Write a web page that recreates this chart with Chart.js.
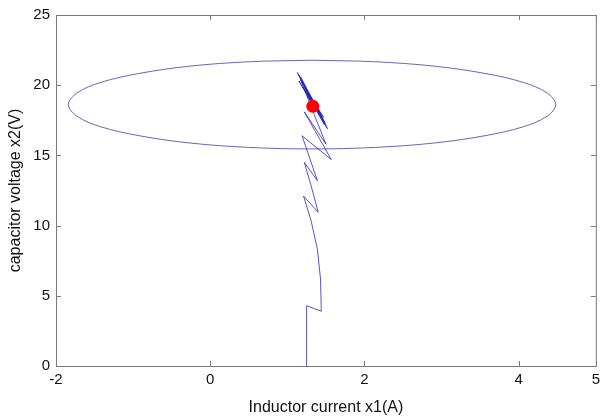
<!DOCTYPE html>
<html lang="en">
  <head>
    <meta charset="UTF-8" />
    <title>Phase plane</title>
    <style>
      * {
        box-sizing: border-box;
        margin: 0;
        padding: 0;
      }
      html,
      body {
        width: 605px;
        height: 420px;
        background: white;
        overflow: hidden;
      }
    </style>
  </head>
  <body>
    <canvas id="phaseChart" width="605" height="420"></canvas>
    <script src="https://cdn.jsdelivr.net/npm/chart.js"></script>
    <script>
      // state trajectory
      const currentX1 = [
        1.25, 1.25, 1.44, 1.43, 1.39, 1.31, 1.21, 1.4, 1.31, 1.22, 1.39, 1.19,
        1.57, 1.22, 1.5, 1.17, 1.52, 1.13, 1.5, 1.15, 1.49, 1.17, 1.48, 1.15,
        1.46, 1.19, 1.47, 1.2, 1.44, 1.22, 1.43, 1.24, 1.41, 1.26, 1.38, 1.29,
        1.35, 1.33,
      ];
      const voltageX2 = [
        0, 4.3, 3.9, 6.2, 8.3, 10.3, 12.1, 10.95, 12.8, 14.5, 13.2, 16.4, 14.7,
        18.1, 15.8, 20.4, 16.9, 20.9, 17.1, 20.7, 17.3, 20.6, 17.2, 20.3, 17.5,
        20.2, 17.7, 19.9, 17.8, 19.7, 18.0, 19.5, 18.2, 19.2, 18.4, 18.9, 18.5,
        18.6,
      ];

      // boundary curve, starting at the top
      const boundX1 = [
        1.32, 0.5, -0.26, -0.91, -1.42, -1.73, -1.84, -1.73, -1.42, -0.91,
        -0.26, 0.5, 1.32, 2.14, 2.9, 3.55, 4.06, 4.37, 4.48, 4.37, 4.06, 3.55,
        2.9, 2.14, 1.32,
      ];
      const boundX2 = [
        21.78, 21.67, 21.36, 20.85, 20.2, 19.44, 18.62, 17.8, 17.04, 16.39,
        15.88, 15.57, 15.46, 15.57, 15.88, 16.39, 17.04, 17.8, 18.62, 19.44,
        20.2, 20.85, 21.36, 21.67, 21.78,
      ];

      const equilibrium = { x: 1.33, y: 18.5 };

      const xTicks = [-2, 0, 2, 4, 5];
      const yTicks = [0, 5, 10, 15, 20, 25];

      const toPoints = (xs, ys) => xs.map((x, i) => ({ x: x, y: ys[i] }));

      // matlab style box with inward ticks
      const boxPlugin = {
        id: "box",
        afterDatasetsDraw(chart) {
          const { ctx, chartArea: a, scales } = chart;
          ctx.save();
          ctx.strokeStyle = "#7a7a7a";
          ctx.lineWidth = 1;
          ctx.strokeRect(a.left + 0.5, a.top + 0.5, a.right - a.left, a.bottom - a.top);
          ctx.beginPath();
          xTicks.forEach((v) => {
            const px = Math.round(scales.x.getPixelForValue(v)) + 0.5;
            ctx.moveTo(px, a.bottom);
            ctx.lineTo(px, a.bottom - 5);
            ctx.moveTo(px, a.top);
            ctx.lineTo(px, a.top + 5);
          });
          yTicks.forEach((v) => {
            const py = Math.round(scales.y.getPixelForValue(v)) + 0.5;
            ctx.moveTo(a.left, py);
            ctx.lineTo(a.left + 5, py);
            ctx.moveTo(a.right, py);
            ctx.lineTo(a.right - 5, py);
          });
          ctx.stroke();
          ctx.restore();
        },
      };

      const tickFont = { family: "Liberation Sans, Arial", size: 15 };
      const titleFont = { family: "Liberation Sans, Arial", size: 16 };

      new Chart(document.getElementById("phaseChart"), {
        type: "scatter",
        data: {
          datasets: [
            {
              data: [equilibrium],
              pointRadius: 6.5,
              pointBackgroundColor: "#ff0000",
              pointBorderColor: "#ff0000",
              pointBorderWidth: 0,
            },
            {
              data: toPoints(currentX1, voltageX2),
              showLine: true,
              borderColor: "#2a2ab8",
              borderWidth: 0.8,
              pointRadius: 0,
              tension: 0,
            },
            {
              data: toPoints(boundX1, boundX2),
              showLine: true,
              borderColor: "#4040a8",
              borderWidth: 0.8,
              pointRadius: 0,
              tension: 0.35,
            },
          ],
        },
        options: {
          responsive: false,
          animation: false,
          layout: { padding: { top: 15, right: 5, left: 0, bottom: 0 } },
          plugins: {
            legend: { display: false },
            tooltip: { enabled: false },
          },
          scales: {
            x: {
              type: "linear",
              min: -2,
              max: 5,
              afterBuildTicks: (scale) => {
                scale.ticks = xTicks.map((v) => ({ value: v }));
              },
              afterFit: (scale) => {
                scale.height = 54;
              },
              grid: { display: false, drawTicks: false },
              border: { display: false },
              ticks: { color: "#111", font: tickFont, padding: 5, maxRotation: 0 },
              title: {
                display: true,
                text: "Inductor current x1(A)",
                color: "#111",
                font: titleFont,
                padding: { top: 0, bottom: 3 },
              },
            },
            y: {
              type: "linear",
              min: 0,
              max: 25,
              afterBuildTicks: (scale) => {
                scale.ticks = yTicks.map((v) => ({ value: v }));
              },
              afterFit: (scale) => {
                scale.width = 56;
              },
              grid: { display: false, drawTicks: false },
              border: { display: false },
              ticks: { color: "#111", font: tickFont, padding: 6 },
              title: {
                display: true,
                text: "capacitor voltage x2(V)",
                color: "#111",
                font: titleFont,
                padding: { top: 6, bottom: 0 },
              },
            },
          },
        },
        plugins: [boxPlugin],
      });
    </script>
  </body>
</html>
